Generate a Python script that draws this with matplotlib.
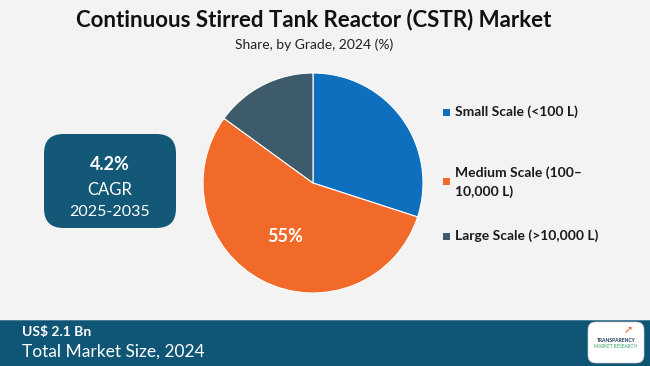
import numpy as np
import matplotlib.pyplot as plt
from matplotlib.patches import FancyBboxPatch, Rectangle

# chart data
grades = ['Small Scale (<100 L)', 'Medium Scale (100–\n10,000 L)', 'Large Scale (>10,000 L)']
shares = [30, 55, 15]
colors = ['#0e6fbf', '#f26a2a', '#3e5b6b']
labelled = [False, True, False]

title = 'Continuous Stirred Tank Reactor (CSTR) Market'
subtitle = 'Share, by Grade, 2024 (%)'
cagr_value = '4.2%'
cagr_period = '2025-2035'
market_size = 'US$ 2.1 Bn'
market_label = 'Total Market Size, 2024'

W, H = 650, 366
fig = plt.figure(figsize=(W / 100, H / 100), dpi=100)
fig.patch.set_facecolor('#f3f3f3')

plt.rcParams['font.family'] = ['Lato', 'DejaVu Sans']

# header
fig.text(0.483, 1 - 20 / H, title, ha='center', va='center',
         fontsize=16, fontweight='bold', color='#111111')
fig.text(0.483, 1 - 45 / H, subtitle, ha='center', va='center',
         fontsize=10, color='#222222')

# pie
ax = fig.add_axes([203 / W, 1 - 293 / H, 220 / W, 220 / H])
wedges, _ = ax.pie(shares, colors=colors, startangle=90, counterclock=False,
                   wedgeprops=dict(linewidth=0.8, edgecolor='white'))
ax.set_xlim(-1, 1)
ax.set_ylim(-1, 1)
ax.set_aspect('equal')
ax.axis('off')
for w, v, show in zip(wedges, shares, labelled):
    if show:
        mid = np.deg2rad((w.theta1 + w.theta2) / 2)
        ax.text(0.55 * np.cos(mid), 0.55 * np.sin(mid), f'{v}%',
                ha='center', va='center', fontsize=13, color='white',
                fontweight='bold')

# legend
leg_y = [112, 182, 236]
for name, c, y in zip(grades, colors, leg_y):
    fig.patches.append(Rectangle((443 / W, 1 - (y + 3.5) / H), 7 / W, 7 / H,
                                 transform=fig.transFigure, facecolor=c,
                                 edgecolor='none'))
    fig.text(455 / W, 1 - y / H, name, ha='left', va='center',
             fontsize=10, fontweight='bold', color='#1a1a1a', linespacing=1.6)

# CAGR box
box = FancyBboxPatch((44 / W, 1 - 228 / H), 132 / W, 94 / H,
                     boxstyle='round,pad=0,rounding_size=0.03',
                     transform=fig.transFigure, facecolor='#145878',
                     edgecolor='none', mutation_aspect=W / H)
fig.patches.append(box)
fig.text(110 / W, 1 - 164 / H, cagr_value, ha='center', va='center',
         fontsize=13, fontweight='bold', color='white')
fig.text(110 / W, 1 - 190 / H, 'CAGR', ha='center', va='center',
         fontsize=12, color='white')
fig.text(110 / W, 1 - 212 / H, cagr_period, ha='center', va='center',
         fontsize=11.5, color='white')

# footer band
fig.patches.append(Rectangle((0, 0), 1, 45 / H, transform=fig.transFigure,
                             facecolor='#0f5576', edgecolor='none'))
fig.patches.append(Rectangle((0, 45 / H), 1, 1.5 / H, transform=fig.transFigure,
                             facecolor='#4d7f98', edgecolor='none'))
fig.text(22 / W, 1 - 332 / H, market_size, ha='left', va='center',
         fontsize=10, fontweight='bold', color='white')
fig.text(22 / W, 1 - 352 / H, market_label, ha='left', va='center',
         fontsize=12.5, color='white')

# logo
logo = FancyBboxPatch((588 / W, 1 - 363 / H), 56 / W, 41 / H,
                      boxstyle='round,pad=0,rounding_size=0.012',
                      transform=fig.transFigure, facecolor='white',
                      edgecolor='#cccccc', linewidth=0.5, mutation_aspect=W / H)
fig.patches.append(logo)
fig.text(616 / W, 1 - 340 / H, 'TRANSPARENCY', ha='center', va='center',
         fontsize=3.6, fontweight='bold', color='#1b3a5a')
fig.text(616 / W, 1 - 346 / H, 'MARKET RESEARCH', ha='center', va='center',
         fontsize=3.3, color='#3aa06a')
fig.text(628 / W, 1 - 330 / H, '➚', ha='center', va='center',
         fontsize=8, color='#f06a2b', family=['DejaVu Sans'])

fig.savefig('out.png', dpi=100, facecolor=fig.get_facecolor())
